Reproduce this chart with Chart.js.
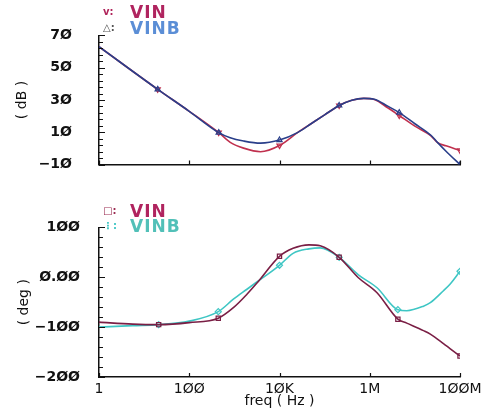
<!DOCTYPE html>
<html>
<head>
<meta charset="utf-8">
<script src="https://cdn.jsdelivr.net/npm/chart.js@4.4.1/dist/chart.umd.min.js"></script>
<style>
  html, body { margin: 0; padding: 0; background: #fff; }
  #wrap { position: relative; width: 496px; height: 410px; overflow: hidden; }
  #wrap canvas { position: absolute; left: 0; }
  .key { position: absolute; left: 103px; font-family: 'DejaVu Sans', sans-serif; white-space: nowrap; }
  .key .sym { display: inline-block; width: 27px; font-size: 10px; font-weight: bold; vertical-align: middle; }
  .key .name { font-size: 17px; font-weight: bold; letter-spacing: 1px; vertical-align: middle; line-height: 16px; }
</style>
</head>
<body>
<div id="wrap">
  <canvas id="magChart" style="top:0"></canvas>
  <canvas id="phaseChart" style="top:200px"></canvas>

  <div class="key" style="top:1px"><span class="sym" style="color:#b0245a">v:</span><span class="name" style="color:#b0245f">VIN</span></div>
  <div class="key" style="top:17px"><span class="sym" style="color:#555">&#9651;:</span><span class="name" style="color:#5b8ed6">VINB</span></div>
  <div class="key" style="top:200px"><span class="sym" style="color:#9a2a50">&#9633;:</span><span class="name" style="color:#b0245f">VIN</span></div>
  <div class="key" style="top:215px"><span class="sym" style="color:#3ec6c4">&#8942;:</span><span class="name" style="color:#52c0b8">VINB</span></div>
</div>

<script>
// x axis (shared)
const freqTicks = [1, 1e2, 1e4, 1e6, 1e8];
const freqTickLabels = ['1', '1ØØ', '1ØK', '1M', '1ØØM'];

// magnitude panel (dB)
const magFreq = [1, 20, 100, 450, 810, 1600, 3800, 1e4, 2.5e4, 5e4, 1e5, 2.1e5, 4e5, 7.4e5,
                 1.26e6, 2.5e6, 4.5e6, 1e7, 2.3e7, 3.2e7, 4.9e7, 1e8];
const magVIN  = [63, 36.6, 23, 9.8, 3.8, 0.2, -2.0, 1.8, 9.8, 15.3, 20.8, 26.6, 29.8, 31,
                 30.3, 25.2, 20.4, 13.8, 7.7, 3.6, 1.6, -1.2];
const magVINB = [63, 36.6, 23, 9.8, 6.6, 4.6, 3.3, 5.2, 9.8, 15.3, 20.8, 26.6, 29.9, 31,
                 30.5, 26.2, 22.2, 15.3, 8.0, 3.6, -1.7, -10];
const magMarks = [1, 3, 7, 11, 16, 21];
const magTickValues = [-10, 10, 30, 50, 70];
const magTickLabels = ['−1Ø', '1Ø', '3Ø', '5Ø', '7Ø'];

// phase panel (deg)
const phaseFreq = [1, 5.6, 21, 100, 440, 950, 1900, 3200, 1e4, 2e4, 4.5e4, 8e4, 2.1e5, 5.6e5,
                   1.45e6, 4.2e6, 6.6e6, 1.55e7, 2.2e7, 4.3e7, 6e7, 1e8];
const phaseVIN  = [-90, -94, -95, -91, -82, -61, -34, -11, 42, 58, 65, 63, 40, -1,
                   -31, -84, -92, -107, -114, -133, -143, -158];
const phaseVINB = [-100, -97, -95, -88, -69, -44, -24, -9, 24, 48, 57, 59, 40, 5,
                   -21, -65, -67, -58, -51, -27, -14, 12];
const phaseMarks = [2, 4, 8, 12, 15, 21];
const phaseTickValues = [-200, -100, 0, 100];
const phaseTickLabels = ['−2ØØ', '−1ØØ', 'Ø.ØØ', '1ØØ'];

const FONT = "'DejaVu Sans', sans-serif";

function points(xs, ys) {
    return xs.map((x, i) => ({ x: x, y: ys[i] }));
}

// small tick marks drawn on the inside of the axes, like the original plot
const inwardTicks = {
    id: 'inwardTicks',
    afterDraw(chart) {
        const { ctx, chartArea: a, scales } = chart;
        ctx.save();
        ctx.strokeStyle = '#111';
        ctx.lineWidth = 1.2;
        ctx.beginPath();
        scales.y.ticks.forEach(t => {
            const py = Math.round(scales.y.getPixelForValue(t.value)) + 0.5;
            ctx.moveTo(a.left, py);
            ctx.lineTo(a.left + (t.label ? 6 : 4), py);
        });
        scales.x.ticks.forEach(t => {
            const px = Math.round(scales.x.getPixelForValue(t.value)) + 0.5;
            ctx.moveTo(px, a.bottom);
            ctx.lineTo(px, a.bottom - 4);
        });
        ctx.stroke();
        ctx.restore();
    }
};

function makeDataset(label, xs, ys, marks, color, style, rotation) {
    return {
        label: label,
        data: points(xs, ys),
        borderColor: color,
        borderWidth: 1.6,
        cubicInterpolationMode: 'monotone',
        pointStyle: style,
        rotation: rotation || 0,
        pointRadius: ctx => marks.includes(ctx.dataIndex) ? 3 : 0,
        pointBackgroundColor: 'transparent',
        pointBorderColor: color,
        pointBorderWidth: 1.2
    };
}

function makeChart(id, height, padTop, datasets, yMin, yMax, yStep, tickValues, tickLabels, yTitle, yTitlePad, yTickPad, showX) {
    const canvas = document.getElementById(id);
    canvas.width = 496;
    canvas.height = height;
    canvas.style.width = '496px';
    canvas.style.height = height + 'px';

    return new Chart(canvas.getContext('2d'), {
        type: 'line',
        data: { datasets: datasets },
        options: {
            responsive: false,
            animation: false,
            layout: { padding: { top: padTop, right: 36, left: 0, bottom: 0 } },
            plugins: { legend: { display: false }, tooltip: { enabled: false } },
            scales: {
                x: {
                    type: 'logarithmic',
                    min: 1,
                    max: 1e8,
                    afterBuildTicks: scale => { scale.ticks = freqTicks.map(v => ({ value: v })); },
                    afterFit: scale => { scale.height = showX ? 33 : 16; },
                    grid: { display: false, drawTicks: false },
                    border: { display: true, color: '#111', width: 1.5 },
                    ticks: {
                        display: showX,
                        autoSkip: false,
                        maxRotation: 0,
                        padding: 4,
                        color: '#111',
                        font: { family: FONT, size: 14 },
                        callback: v => {
                            const i = freqTicks.indexOf(v);
                            return i >= 0 ? freqTickLabels[i] : '';
                        }
                    },
                    title: {
                        display: showX,
                        text: 'freq ( Hz )',
                        color: '#111',
                        font: { family: FONT, size: 14 },
                        padding: { top: 0, bottom: 0 }
                    }
                },
                y: {
                    min: yMin,
                    max: yMax,
                    afterFit: scale => { scale.width = 99; },
                    grid: { display: false, drawTicks: false },
                    border: { display: true, color: '#111', width: 1.5 },
                    ticks: {
                        stepSize: yStep,
                        autoSkip: false,
                        padding: yTickPad,
                        color: '#111',
                        font: { family: FONT, size: 14, weight: 'bold' },
                        callback: v => {
                            const i = tickValues.indexOf(v);
                            return i >= 0 ? tickLabels[i] : '';
                        }
                    },
                    title: {
                        display: true,
                        text: yTitle,
                        color: '#111',
                        font: { family: FONT, size: 14 },
                        padding: { top: yTitlePad, bottom: 0 }
                    }
                }
            }
        },
        plugins: [inwardTicks]
    });
}

// top: magnitude, VINB drawn on top where the two curves overlap
makeChart('magChart', 200, 33, [
    makeDataset('VINB', magFreq, magVINB, magMarks, '#2a3f8a', 'triangle', 0),
    makeDataset('VIN', magFreq, magVIN, magMarks, '#c0304e', 'triangle', 180)
], -10, 70, 4, magTickValues, magTickLabels, '( dB )', 14, 27, false);

// bottom: phase, VIN drawn on top where the two curves overlap
makeChart('phaseChart', 210, 25, [
    makeDataset('VIN', phaseFreq, phaseVIN, phaseMarks, '#7a1f45', 'rect', 0),
    makeDataset('VINB', phaseFreq, phaseVINB, phaseMarks, '#3ec6c4', 'rectRot', 0)
], -200, 100, 20, phaseTickValues, phaseTickLabels, '( deg )', 16, 19, true);
</script>
</body>
</html>
